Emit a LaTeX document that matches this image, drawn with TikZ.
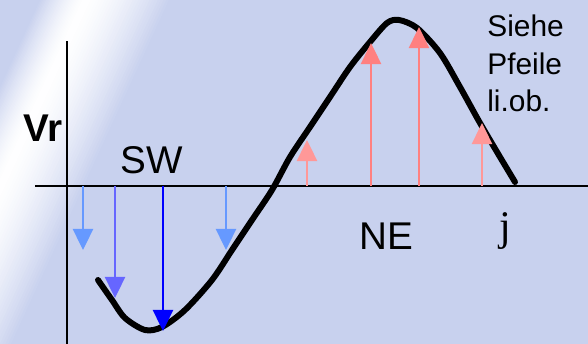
\documentclass[tikz,border=0pt]{standalone}
\usepackage{fontspec}
\setmainfont{Liberation Sans}
\newfontfamily\phifont{Liberation Serif}
\usetikzlibrary{arrows.meta}
\definecolor{bgblue}{RGB}{200,209,238}
\definecolor{swlight}{RGB}{102,153,255}
\definecolor{swmid}{RGB}{102,102,255}
\definecolor{swdark}{RGB}{0,0,255}
\definecolor{nelight}{RGB}{255,152,152}
\definecolor{nedark}{RGB}{255,128,128}

\begin{document}
\begin{tikzpicture}[
    x=0.02cm, y=-0.02cm,
    every node/.style={inner sep=0pt},
    lbl/.style={font=\fontsize{22}{26}\selectfont},
    note/.style={font=\fontsize{17}{21}\selectfont, anchor=base west},
    axis/.style={line width=1pt},
    wave/.style={line width=3.4pt, line cap=round, line join=round},
    vec/.style={line width=1.1pt, -{Triangle[width=11.5pt,length=12pt]}}
]
\useasboundingbox (0,0) rectangle (588,344);
\fill[bgblue] (0,0) rectangle (588,344);

% light streak top left
\begin{scope}
\clip (0,0) rectangle (588,344);
\foreach \i [evaluate=\i as \p using {int(100*(1-(\i/31)^1.5))}] in {30,...,1}
  \fill[white!\p!bgblue] (85-1.5*\i,0) -- (85+2.8*\i,0) -- (-73+2.8*\i,344) -- (-73-1.5*\i,344) -- cycle;
\end{scope}

% axes
\coordinate (ytop) at (67,41);
\coordinate (ybot) at (67,344);
\coordinate (xleft) at (35,186);
\coordinate (xright) at (588,186);
\draw[axis] (ybot) -- (ytop);
\draw[axis] (xleft) -- (xright);

% radial velocity curve
\draw[wave] plot[smooth] coordinates {(98,280) (112,300) (125,318) (145,330) (162,327) (185,310) (212,280) (232,250) (252,220) (272,190) (290,157) (310,127) (330,97) (350,67) (370,42) (387,23) (399,20) (417,28) (440,53) (460,87) (480,123) (500,157) (515,182)};

% arrows from the axis
\foreach \x/\y/\c in {83/250/swlight, 115/298/swmid, 163/331/swdark, 226/250/swlight,
                      307/140/nelight, 371/43/nedark, 419/27/nedark, 482/123/nelight}
  \draw[vec, \c] (\x,186) -- (\x,\y);

\node[lbl, font=\fontsize{22}{26}\selectfont\bfseries] (vr) at (43,128) {Vr};
\node[lbl] (sw) at (152,160) {SW};
\node[lbl] (ne) at (386,236) {NE};
\node[anchor=base, font=\phifont\fontsize{24}{28}\selectfont] (phi) at (505,240) {j};
\node[note] (siehe) at (487,37) {Siehe};
\node[note] (pfeile) at (487,75) {Pfeile};
\node[note] (liob) at (487,112) {li.ob.};

\end{tikzpicture}
\end{document}
